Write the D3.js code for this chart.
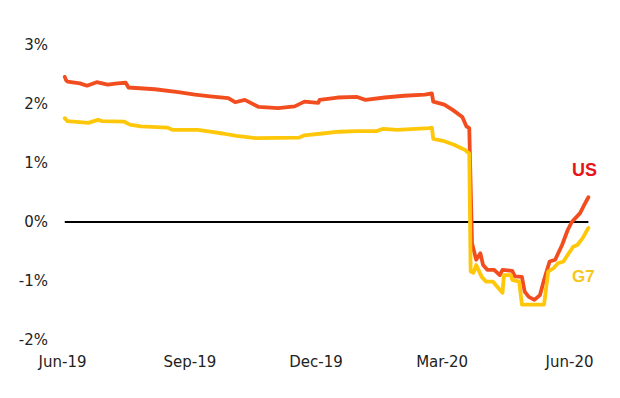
<!DOCTYPE html>
<html>
<head>
<meta charset="utf-8">
<script src="https://cdn.jsdelivr.net/npm/d3@7"></script>
<style>
  html, body { margin: 0; padding: 0; background: #fff; }
  svg { display: block; }
  .tick text { font-family: "DejaVu Sans", sans-serif; font-size: 15px; fill: #222; }
</style>
</head>
<body>
<svg id="chart" width="620" height="398"></svg>
<script>
// ---- data ----
const yTicks = [-2, -1, 0, 1, 2, 3];
const xTickDates = ["2019-06-01", "2019-09-01", "2019-12-01", "2020-03-01", "2020-06-01"];

const usDates = ["2019-06-03","2019-06-04","2019-06-05","2019-06-14","2019-06-19","2019-06-26","2019-07-04","2019-07-11","2019-07-17","2019-07-19",
  "2019-08-07","2019-08-24","2019-09-05","2019-09-16","2019-09-29","2019-10-04","2019-10-11","2019-10-21","2019-11-04","2019-11-16",
  "2019-11-23","2019-12-03","2019-12-04","2019-12-17","2019-12-31","2020-01-06","2020-01-20","2020-02-03","2020-02-18","2020-02-23",
  "2020-02-24","2020-03-03","2020-03-09","2020-03-16","2020-03-19","2020-03-21","2020-03-23","2020-03-26","2020-03-29","2020-03-31",
  "2020-04-03","2020-04-08","2020-04-12","2020-04-14","2020-04-21","2020-04-23","2020-04-28","2020-04-30","2020-05-03","2020-05-07",
  "2020-05-11","2020-05-14","2020-05-18","2020-05-22","2020-05-27","2020-05-31","2020-06-03","2020-06-09","2020-06-12","2020-06-15"];
const usValues = [2.46,2.40,2.38,2.35,2.31,2.37,2.33,2.35,2.36,2.28,
  2.25,2.20,2.16,2.13,2.10,2.03,2.07,1.95,1.93,1.96,
  2.04,2.02,2.07,2.11,2.12,2.07,2.11,2.14,2.16,2.18,
  2.04,1.99,1.90,1.78,1.62,1.59,-0.36,-0.64,-0.53,-0.73,
  -0.81,-0.81,-0.90,-0.81,-0.83,-0.92,-0.93,-1.18,-1.27,-1.32,
  -1.24,-0.98,-0.67,-0.64,-0.39,-0.14,0.00,0.15,0.29,0.42];

const g7Dates = ["2019-06-03","2019-06-05","2019-06-20","2019-06-27","2019-06-30","2019-07-16","2019-07-20","2019-07-28","2019-08-16","2019-08-20",
  "2019-09-07","2019-09-16","2019-09-25","2019-10-05","2019-10-19","2019-11-19","2019-11-23","2019-12-06","2019-12-18","2019-12-31",
  "2020-01-14","2020-01-19","2020-01-29","2020-02-21","2020-02-23","2020-02-24","2020-03-03","2020-03-10","2020-03-18","2020-03-21",
  "2020-03-22","2020-03-24","2020-03-26","2020-03-30","2020-04-02","2020-04-07","2020-04-11","2020-04-14","2020-04-15","2020-04-20",
  "2020-04-21","2020-04-26","2020-04-28","2020-05-14","2020-05-17","2020-05-21","2020-05-24","2020-05-28","2020-05-31","2020-06-04",
  "2020-06-07","2020-06-11","2020-06-14","2020-06-15"];
const g7Values = [1.76,1.71,1.68,1.73,1.71,1.70,1.65,1.62,1.60,1.56,
  1.56,1.53,1.50,1.46,1.42,1.43,1.47,1.50,1.53,1.54,
  1.54,1.58,1.56,1.59,1.60,1.41,1.37,1.31,1.22,1.16,
  -0.84,-0.86,-0.73,-0.93,-1.01,-1.01,-1.12,-1.20,-0.90,-0.90,
  -0.98,-1.01,-1.40,-1.40,-0.84,-0.78,-0.70,-0.67,-0.56,-0.42,
  -0.39,-0.27,-0.14,-0.10];

const seriesLabels = ["US", "G7"];

// ---- chart ----
const parse = d3.timeParse("%Y-%m-%d");
const svg = d3.select("#chart");

const x = d3.scaleTime()
  .domain([parse("2019-06-01"), parse("2020-06-01")])
  .range([62, 569]);
const y = d3.scaleLinear().domain([-2, 3]).range([340, 45]);

const us = usDates.map((d, i) => ({ date: parse(d), value: usValues[i] }));
const g7 = g7Dates.map((d, i) => ({ date: parse(d), value: g7Values[i] }));

// y axis
const yAxis = svg.append("g")
  .attr("transform", "translate(48,0)")
  .call(d3.axisLeft(y).tickValues(yTicks).tickSize(0).tickPadding(0)
    .tickFormat(d => (d < 0 ? "-" : "") + Math.abs(d) + "%"));
yAxis.select(".domain").remove();

// x axis
const xAxis = svg.append("g")
  .attr("transform", "translate(0,356)")
  .call(d3.axisBottom(x).tickValues(xTickDates.map(parse)).tickSize(0).tickPadding(0)
    .tickFormat(d3.timeFormat("%b-%y")));
xAxis.select(".domain").remove();

// zero line
svg.append("line")
  .attr("x1", x(us[0].date)).attr("x2", x(us[us.length - 1].date))
  .attr("y1", y(0)).attr("y2", y(0))
  .attr("stroke", "#000").attr("stroke-width", 2);

const line = d3.line().x(d => x(d.date)).y(d => y(d.value));

svg.append("path").datum(us)
  .attr("d", line).attr("fill", "none")
  .attr("stroke", "#F24D1F").attr("stroke-width", 3.8)
  .attr("stroke-linejoin", "round").attr("stroke-linecap", "round");

svg.append("path").datum(g7)
  .attr("d", line).attr("fill", "none")
  .attr("stroke", "#FFC70A").attr("stroke-width", 3.8)
  .attr("stroke-linejoin", "round").attr("stroke-linecap", "round");

// series labels
svg.append("text")
  .attr("x", 572).attr("y", 176)
  .attr("font-family", "Liberation Sans, Arial, sans-serif")
  .attr("font-weight", "bold").attr("font-size", 18)
  .attr("fill", "#E8141C").text(seriesLabels[0]);

svg.append("text")
  .attr("x", 572).attr("y", 282)
  .attr("font-family", "Liberation Sans, Arial, sans-serif")
  .attr("font-weight", "bold").attr("font-size", 17)
  .attr("fill", "#F7C61A").text(seriesLabels[1]);
</script>
</body>
</html>
